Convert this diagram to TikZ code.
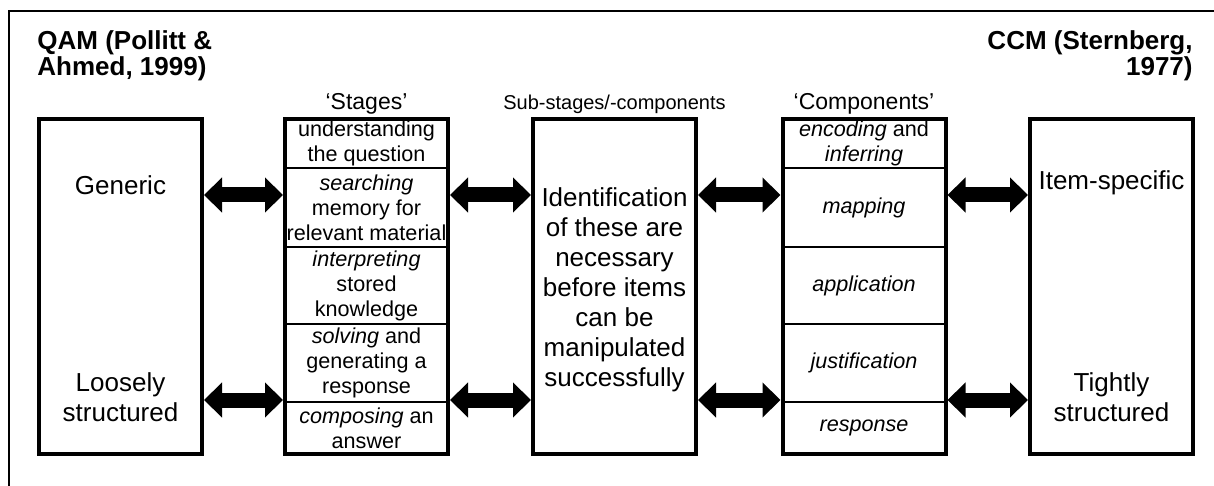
\documentclass[tikz,border=0pt]{standalone}
\usepackage{fontspec}
\setmainfont{Liberation Sans}
\usetikzlibrary{arrows.meta,positioning}

\begin{document}
\begin{tikzpicture}[
        x=0.5pt, y=-0.5pt,
        every node/.style={align=center, inner sep=0pt},
        bigbox/.style={draw, line width=2pt, minimum width=81.5pt, minimum height=167.5pt},
        cell/.style={draw, line width=1pt, outer sep=0pt, minimum width=81.5pt, font=\fontsize{10.8}{12.5}\selectfont},
        bodytext/.style={font=\fontsize{13}{15}\selectfont},
        heading/.style={font=\fontsize{11.5}{13}\selectfont},
        title/.style={font=\bfseries\fontsize{13}{13}\selectfont},
        biarrow/.style={line width=7.5pt, {Triangle[length=9pt,width=17pt]}-{Triangle[length=9pt,width=17pt]}}
    ]
  \useasboundingbox (0,0) rectangle (1214,486);

  % Frame
  \draw[line width=0.8pt] (1230,11) -- (9,11) -- (9,500);

  % Titles
  \node[title, align=left, anchor=north west] (qam) at (37,30) {QAM (Pollitt \&\\Ahmed, 1999)};
  \node[title, align=right, anchor=north east] (ccm) at (1193,30) {CCM (Sternberg,\\1977)};

  % Stages column
  \node[cell, minimum height=24.5pt] (s1) at (366.5,143.5) {understanding\\the question};
  \node[cell, minimum height=39.5pt, below=0pt of s1] (s2) {\textit{searching}\\memory for\\relevant material};
  \node[cell, minimum height=38.5pt, below=0pt of s2] (s3) {\textit{interpreting}\\stored\\knowledge};
  \node[cell, minimum height=39pt, below=0pt of s3] (s4) {\textit{solving} and\\generating a\\response};
  \node[cell, minimum height=26pt, below=0pt of s4] (s5) {\textit{composing} an\\answer};

  % Components column
  \node[cell, minimum height=24.5pt] (c1) at (864,143.5) {\textit{encoding} and\\\textit{inferring}};
  \node[cell, minimum height=39.5pt, below=0pt of c1] (c2) {\textit{mapping}};
  \node[cell, minimum height=38.5pt, below=0pt of c2] (c3) {\textit{application}};
  \node[cell, minimum height=39pt, below=0pt of c3] (c4) {\textit{justification}};
  \node[cell, minimum height=26pt, below=0pt of c4] (c5) {\textit{response}};

  % Big boxes
  \node[bigbox] (generic) at (120.5,286.5) {};
  \node[bigbox] (stages) at (366.5,286.5) {};
  \node[bigbox] (middle) at (614.5,286.5) {};
  \node[bigbox] (comps) at (864,286.5) {};
  \node[bigbox] (specific) at (1111.5,286.5) {};

  % Headings
  \node[heading, anchor=base] (stageshead) at (366.5,110) {`Stages'};
  \node[heading, anchor=base, font=\fontsize{10}{12}\selectfont] (middlehead) at (614.5,110) {Sub-stages/-components};
  \node[heading, anchor=base] (compshead) at (864,110) {`Components'};

  % Box texts
  \node[bodytext] (generictxt) at (120.5,185) {Generic};
  \node[bodytext] (looselytxt) at (120.5,397) {Loosely\\structured};
  \node[bodytext] (middletxt) at (614.5,290) {Identification\\of these are\\necessary\\before items\\can be\\manipulated\\successfully};
  \node[bodytext] (specifictxt) at (1111.5,183) {Item-specific};
  \node[bodytext] (tightlytxt) at (1111.5,397) {Tightly\\structured};

  % Arrows
  \foreach \a/\b in {generic/stages, stages/middle, middle/comps, comps/specific} {
    \draw[biarrow] ([yshift=45.75pt]\a.east) -- ([yshift=45.75pt]\b.west);
    \draw[biarrow] ([yshift=-56.75pt]\a.east) -- ([yshift=-56.75pt]\b.west);
  }
\end{tikzpicture}
\end{document}
